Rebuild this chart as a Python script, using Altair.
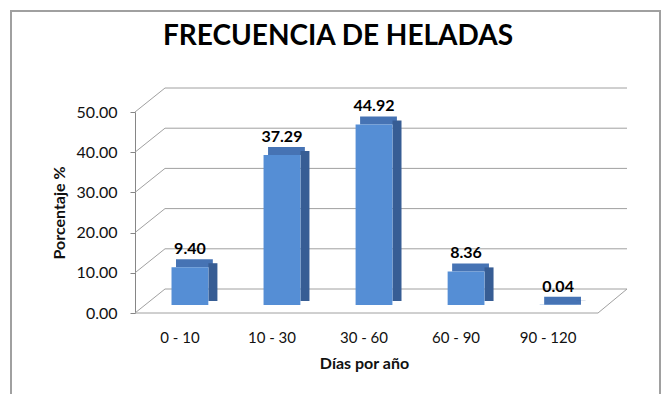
import altair as alt
import pandas as pd

categories = ["0 - 10", "10 - 30", "30 - 60", "60 - 90", "90 - 120"]
values = [9.40, 37.29, 44.92, 8.36, 0.04]
grid_values = [0, 10, 20, 30, 40, 50]
title_text = "FRECUENCIA DE HELADAS"
x_title = "Días por año"
y_title = "Porcentaje %"

W, H = 458, 201
FONT = "Lato"

df = pd.DataFrame({"cat": categories, "val": values, "zero": [0] * len(values)})
gdf = pd.DataFrame({"v": grid_values})
floor = pd.DataFrame({"v": [0]})
tdf = pd.DataFrame({"t": [title_text]})

xscale = alt.Scale(domain=categories, paddingInner=0.6, paddingOuter=0.288)
yscale = alt.Scale(domain=[0, 50], nice=False, zero=True)

FRONT = "#558ED5"
SIDE = "#375D94"
TOP = "#4673B4"
GRID = "#A0A0A0"
TXT = "#111111"

frame = alt.Chart(floor).mark_rect(fill=None, stroke="#A0A0A0", strokeWidth=2).encode(
    x=alt.value(-124), x2=alt.value(W + 67), y=alt.value(-101), y2=alt.value(H + 120)
)

back_grid = alt.Chart(gdf).mark_rule(color=GRID, strokeWidth=1, yOffset=-24).encode(
    x=alt.value(30), x2=alt.value(492), y=alt.Y("v:Q", scale=yscale)
)
diag_grid = alt.Chart(gdf).mark_rule(color=GRID, strokeWidth=1, y2Offset=-24).encode(
    x=alt.value(0), x2=alt.value(30), y=alt.Y("v:Q", scale=yscale), y2="v:Q"
)
floor_front = alt.Chart(floor).mark_rule(color=GRID, strokeWidth=1).encode(
    x=alt.value(0), x2=alt.value(463), y=alt.Y("v:Q", scale=yscale)
)
floor_right = alt.Chart(floor).mark_rule(color=GRID, strokeWidth=1, y2Offset=-24).encode(
    x=alt.value(463), x2=alt.value(492), y=alt.Y("v:Q", scale=yscale), y2="v:Q"
)

xenc = alt.X(
    "cat:N", scale=xscale, sort=categories, title=x_title,
    axis=alt.Axis(
        labelAngle=0, domain=False, ticks=False, tickSize=0, labelPadding=17, grid=False,
        labelFont=FONT, labelFontSize=15, labelColor=TXT,
        titleFont=FONT, titleFontSize=16, titleFontWeight="bold", titleColor=TXT,
        titlePadding=10,
    ),
)

top_face = alt.Chart(df).mark_bar(color=TOP, xOffset=14.5, yOffset=-16, y2Offset=-8).encode(
    x=xenc,
    y=alt.Y(
        "val:Q", scale=yscale, title=y_title,
        axis=alt.Axis(
            values=grid_values, format=".2f", grid=False, domain=True, domainColor="#868686",
            tickColor="#868686", tickSize=5, labelPadding=13,
            labelFont=FONT, labelFontSize=16, labelColor=TXT,
            titleFont=FONT, titleFontSize=16, titleFontWeight="bold", titleColor=TXT,
            titlePadding=9,
        ),
    ),
    y2="val:Q",
)
side_face = alt.Chart(df).mark_bar(color=SIDE, width=9, xOffset=33, yOffset=-12, y2Offset=-12).encode(
    x=alt.X("cat:N", scale=xscale, sort=categories),
    y=alt.Y("val:Q", scale=yscale),
    y2="zero:Q",
)
front_face = alt.Chart(df).mark_bar(color=FRONT, xOffset=10, yOffset=-8, y2Offset=-8).encode(
    x=alt.X("cat:N", scale=xscale, sort=categories),
    y=alt.Y("val:Q", scale=yscale),
    y2="zero:Q",
)
labels = alt.Chart(df).mark_text(
    font=FONT, fontSize=16, fontWeight="bold", color="#000000", baseline="alphabetic",
    xOffset=10, yOffset=-21,
).encode(
    x=alt.X("cat:N", scale=xscale, sort=categories),
    y=alt.Y("val:Q", scale=yscale),
    text=alt.Text("val:Q", format=".2f"),
)
title = alt.Chart(tdf).mark_text(
    font=FONT, fontSize=28, fontWeight="bold", color="#000000", baseline="alphabetic", align="center"
).encode(x=alt.value(203), y=alt.value(-67), text="t:N")

chart = alt.layer(
    frame, back_grid, diag_grid, floor_front, floor_right, top_face, side_face, front_face, labels, title
).properties(
    width=W, height=H,
    background="white",
    autosize=alt.AutoSizeParams(type="none"),
    padding={"left": 127, "top": 104, "right": 69, "bottom": 81},
).configure_view(stroke="transparent", strokeWidth=0)

chart.save("out.html", embed_options={"renderer": "svg", "actions": False})
